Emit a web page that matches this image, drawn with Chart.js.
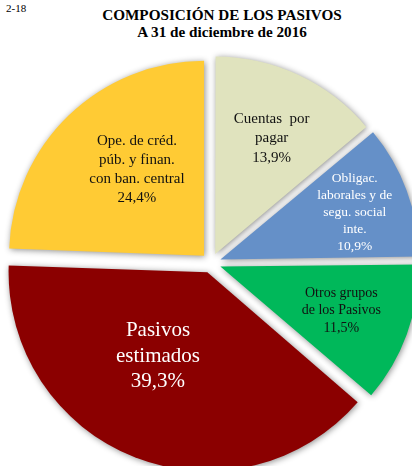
<!DOCTYPE html>
<html>
<head>
<meta charset="utf-8">
<script src="https://cdn.jsdelivr.net/npm/chart.js@4/dist/chart.umd.min.js"></script>
<style>
  html, body { margin: 0; padding: 0; width: 412px; height: 466px; overflow: hidden; background: #fff; }
  body { position: relative; font-family: "Liberation Serif", "DejaVu Serif", serif; }
  .page-no { position: absolute; left: 6px; top: 2px; font-size: 11px; color: #000; }
  .title { position: absolute; left: 0; width: 444px; top: 6px; text-align: center; font-weight: bold; font-size: 15.2px; line-height: 17px; color: #000; z-index: 2; }
  #wrap { position: absolute; left: -4.5px; top: 47.5px; width: 430px; height: 430px; }
</style>
</head>
<body>
<div class="page-no">2-18</div>
<div class="title">COMPOSICIÓN DE LOS PASIVOS<br>A 31 de diciembre de 2016</div>
<div id="wrap"><canvas id="pasivosChart"></canvas></div>
<script>
const categories = [
  ["Cuentas  por", "pagar"],
  ["Obligac.", "laborales y de", "segu. social", "inte."],
  ["Otros grupos", "de los Pasivos"],
  ["Pasivos", "estimados"],
  ["Ope. de créd.", "púb. y finan.", "con ban. central"]
];
const shares = [13.9, 10.9, 11.5, 39.3, 24.4];
const shareLabels = ["13,9%", "10,9%", "11,5%", "39,3%", "24,4%"];

const sliceColors = ["#E0E3BE", "#6590C8", "#00B85A", "#8B0000", "#FFCB34"];
const labelColors = ["#111", "#fff", "#111", "#fff", "#111"];
// radial factor, angle nudge (deg), font size, line height
const labelLayout = [
  [0.66, 1, 15, 19.5],
  [0.73, 1, 13.5, 17],
  [0.66, 0, 14, 17.5],
  [0.50, 9, 21, 25.5],
  [0.56, 6, 15, 19]
];

const sliceShadow = {
  id: "sliceShadow",
  beforeDatasetDraw(chart) {
    const ctx = chart.ctx;
    ctx.save();
    ctx.shadowColor = "rgba(0,0,0,0.45)";
    ctx.shadowBlur = 6;
    ctx.shadowOffsetX = 1;
    ctx.shadowOffsetY = 1;
  },
  afterDatasetDraw(chart) {
    chart.ctx.restore();
  }
};

const sliceLabels = {
  id: "sliceLabels",
  afterDatasetsDraw(chart) {
    const ctx = chart.ctx;
    const meta = chart.getDatasetMeta(0);
    meta.data.forEach((arc, i) => {
      const p = arc.getProps(["x", "y", "startAngle", "endAngle", "outerRadius"], true);
      const [k, nudge, size, lh] = labelLayout[i];
      // Chart.js translates an arc by offset / 4 along its mid angle
      const shift = (arc.options.offset || 0) / 4;
      const mid = (p.startAngle + p.endAngle) / 2;
      const ax = p.x + Math.cos(mid) * shift;
      const ay = p.y + Math.sin(mid) * shift;
      const a = mid + nudge * Math.PI / 180;
      const cx = ax + Math.cos(a) * p.outerRadius * k;
      const cy = ay + Math.sin(a) * p.outerRadius * k;
      const lines = categories[i].concat([shareLabels[i]]);
      ctx.save();
      ctx.fillStyle = labelColors[i];
      ctx.font = size + 'px "Liberation Serif", serif';
      ctx.textAlign = "center";
      ctx.textBaseline = "middle";
      const top = cy - (lines.length - 1) * lh / 2;
      lines.forEach((t, j) => ctx.fillText(t, cx, top + j * lh));
      ctx.restore();
    });
  }
};

new Chart(document.getElementById("pasivosChart"), {
  type: "pie",
  data: {
    labels: categories.map(c => c.join(" ")),
    datasets: [{
      data: shares,
      backgroundColor: sliceColors,
      borderWidth: 0,
      offset: 40
    }]
  },
  options: {
    responsive: true,
    maintainAspectRatio: false,
    animation: false,
    layout: { padding: 0 },
    rotation: 0,
    plugins: {
      legend: { display: false },
      tooltip: { enabled: false }
    }
  },
  plugins: [sliceShadow, sliceLabels]
});
</script>
</body>
</html>
